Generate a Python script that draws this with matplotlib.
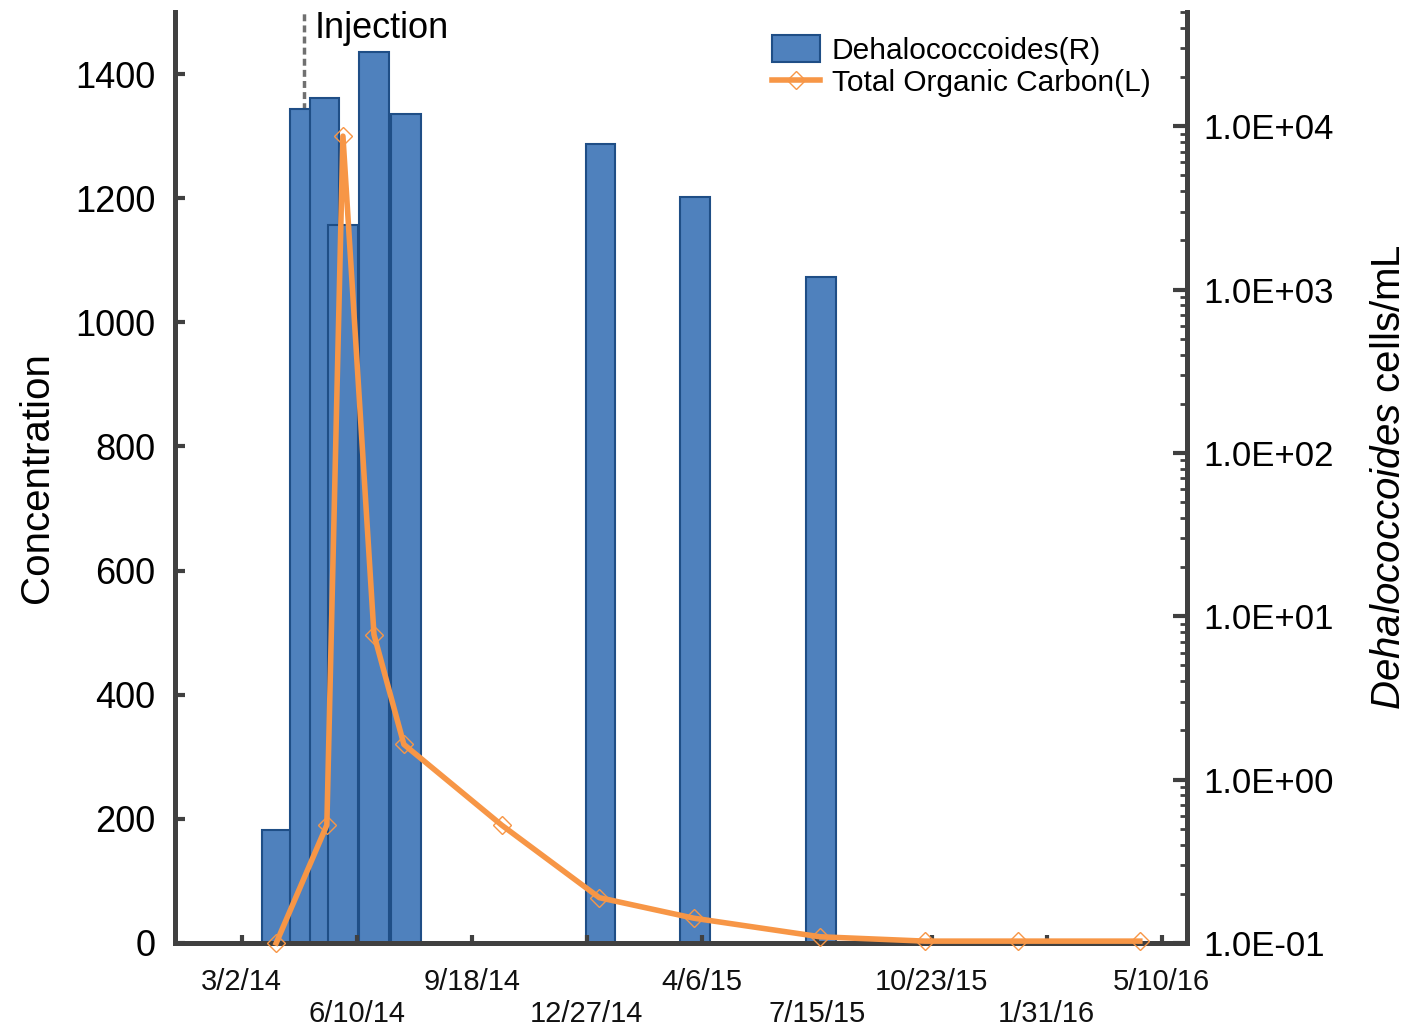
import matplotlib
matplotlib.use("Agg")
import matplotlib.pyplot as plt
import matplotlib.dates as mdates
from matplotlib.ticker import FuncFormatter, LogLocator, NullFormatter
import numpy as np

plt.rcParams['font.family'] = ['Liberation Sans', 'DejaVu Sans']
plt.rcParams['mathtext.fontset'] = 'custom'
plt.rcParams['mathtext.it'] = 'Liberation Sans:italic'
plt.rcParams['mathtext.rm'] = 'Liberation Sans'

# Dehalococcoides (eje derecho, log)
bar_dates = ['2014-04-02', '2014-04-26', '2014-05-13', '2014-05-29', '2014-06-25',
             '2014-07-23', '2015-01-08', '2015-03-31', '2015-07-19']
bar_vals = [0.49, 12700, 14900, 2500, 28400, 11900, 7800, 3700, 1190]

# Total Organic Carbon (eje izquierdo)
toc_dates = ['2014-04-01', '2014-05-15', '2014-05-29', '2014-06-25', '2014-07-21',
             '2014-10-14', '2015-01-07', '2015-03-30', '2015-07-18', '2015-10-17',
             '2016-01-06', '2016-04-21']
toc_vals = [0, 190, 1300, 497, 320, 190, 73, 40, 10, 3, 3, 3]

tick_dates = ['2014-03-02', '2014-06-10', '2014-09-18', '2014-12-27', '2015-04-06',
              '2015-07-15', '2015-10-23', '2016-01-31', '2016-05-10']
tick_labels = ['3/2/14', '6/10/14', '9/18/14', '12/27/14', '4/6/15',
               '7/15/15', '10/23/15', '1/31/16', '5/10/16']

injection_date = '2014-04-25'

bd = mdates.datestr2num(bar_dates)
td = mdates.datestr2num(toc_dates)
xt = mdates.datestr2num(tick_dates)
inj = mdates.datestr2num(injection_date)

spine_c = '#404040'
blue = '#4F81BD'
orange = '#F79646'

fig = plt.figure(figsize=(14.06, 10.28), dpi=100)
ax = fig.add_axes([0.1245, 0.0827, 0.7197, 0.9056])
ax2 = ax.twinx()

# barras en el eje derecho
ax2.set_yscale('log')
ax2.set_ylim(0.1, 5e4)
ax2.axvline(inj, color='#707070', linestyle=(0, (2, 1.2)), linewidth=2.5, zorder=0.5)
bars = ax2.bar(bd, bar_vals, width=26, color=blue, edgecolor='#1F4E86', linewidth=1.5,
               zorder=2, label='Dehalococcoides(R)')

# linea en el eje izquierdo, por encima
ax.set_zorder(ax2.get_zorder() + 1)
ax.patch.set_visible(False)
line, = ax.plot(td, toc_vals, color=orange, linewidth=4, marker='D', markersize=9,
                markerfacecolor='none', markeredgecolor=orange, markeredgewidth=1,
                label='Total Organic Carbon(L)', clip_on=False, zorder=3)

ax.set_ylim(0, 1500)
ax.set_xlim(mdates.datestr2num('2014-01-03'), mdates.datestr2num('2016-06-01'))
ax.set_yticks(np.arange(0, 1401, 200))
ax.set_xticks(xt)
ax.set_xticklabels([l if i % 2 == 0 else '\n' + l for i, l in enumerate(tick_labels)])

ax.text(inj + 9, 1474, 'Injection', fontsize=26, va='center', ha='left', clip_on=False)

for a in (ax, ax2):
    for s in a.spines.values():
        s.set_color(spine_c)
        s.set_linewidth(3.5)
    a.spines['top'].set_visible(False)

ax.tick_params(axis='y', direction='in', length=7, width=3, color=spine_c, labelsize=26, pad=14)
ax.tick_params(axis='x', direction='in', length=6, width=3, color=spine_c, labelsize=21, pad=18,
               labelcolor='#111111')
ax2.yaxis.set_major_locator(LogLocator(base=10, numticks=10))
ax2.yaxis.set_minor_locator(LogLocator(base=10, subs=np.arange(2, 10), numticks=10))
ax2.yaxis.set_minor_formatter(NullFormatter())
ax2.yaxis.set_major_formatter(FuncFormatter(lambda v, p: f'{v:.1E}'))
ax2.tick_params(axis='y', which='major', direction='in', length=10, width=3, color=spine_c,
                labelsize=25, pad=12)
ax2.tick_params(axis='y', which='minor', direction='in', length=5, width=2, color=spine_c)

ax.set_ylabel('Concentration', fontsize=29, labelpad=14)
ax2.set_ylabel(r'$\it{Dehalococcoides}$ cells/mL', fontsize=29, labelpad=26)

ax.legend([bars, line], ['Dehalococcoides(R)', 'Total Organic Carbon(L)'],
          loc='upper left', bbox_to_anchor=(0.59, 0.975), frameon=False, fontsize=21.5,
          handlelength=1.6, handleheight=1.0, handletextpad=0.4, borderpad=0,
          labelspacing=0.1, borderaxespad=0)

fig.savefig('out.png', dpi=100)
